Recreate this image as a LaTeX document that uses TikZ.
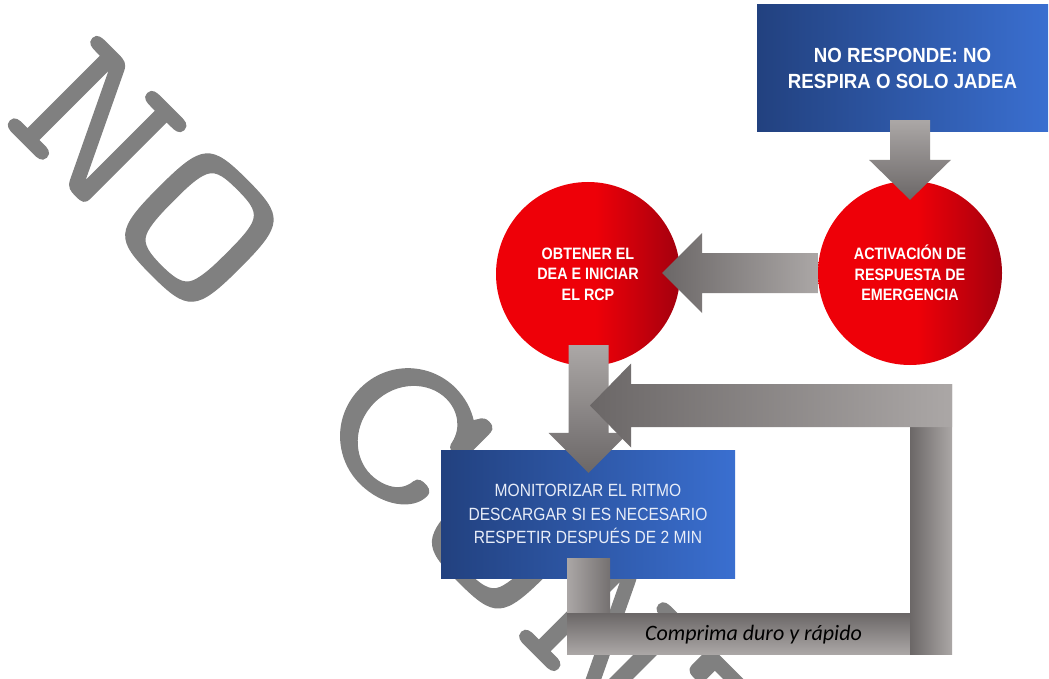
\documentclass[tikz,border=0pt]{standalone}
\usepackage{fontspec}
\usetikzlibrary{calc}
\newfontfamily\hdfont[FakeStretch=0.91]{Liberation Sans}
\newfontfamily\cirfont[FakeStretch=0.87]{Liberation Sans}
\newfontfamily\monfont[FakeStretch=0.88]{Liberation Sans}
\newfontfamily\lblfont{Carlito}
\newfontfamily\wmfont{lmmono10-regular.otf}[FakeStretch=1.3,FakeBold=0.6]
\definecolor{bL}{HTML}{22417F}
\definecolor{bR}{HTML}{3A6FD0}
\definecolor{redL}{HTML}{EE0008}
\definecolor{redR}{HTML}{A3000E}
\definecolor{gL}{HTML}{ABA7A6}
\definecolor{gD}{HTML}{6B6767}
\definecolor{wm}{HTML}{808080}
\definecolor{monw}{HTML}{E8EDF8}
\pgfdeclarehorizontalshading{redsh}{100bp}{color(0bp)=(redL); color(25bp)=(redL); color(52bp)=(redL); color(75bp)=(redR); color(100bp)=(redR)}
\tikzset{
  bluebox/.style={rectangle, inner sep=0pt, left color=bL, right color=bR, align=center},
  topbox/.style={bluebox, minimum width=291pt, minimum height=127pt, text=white,
    font=\hdfont\bfseries\fontsize{20.5}{26}\selectfont},
  monbox/.style={bluebox, minimum width=294pt, minimum height=128pt, text=monw,
    font=\monfont\fontsize{17.7}{23.8}\selectfont},
  redcirc/.style={circle, inner sep=0pt, minimum size=184pt, shade, shading=redsh,
    text=white, align=center, font=\cirfont\bfseries\fontsize{16.5}{20.6}\selectfont},
  lbl/.style={inner sep=0pt, text=black, font=\lblfont\itshape\fontsize{22}{26}\selectfont},
  wmark/.style={text=wm, rotate=-45, anchor=west, inner sep=0pt,
    font=\wmfont\fontsize{212}{212}\selectfont},
  downgrad/.style={top color=gL, bottom color=gD},
  leftgrad/.style={left color=gD, right color=gL}
}
\begin{document}
\begin{tikzpicture}[x=1pt,y=-1pt]
\useasboundingbox (0,0) rectangle (1049,679);
\clip (0,0) rectangle (1049,679);
\fill[white] (0,0) rectangle (1049,679);
% watermark
\node[wmark] (wmk) at (46,74) {NO CONTROLADA};
% nodes
\node[topbox] (top) at (902.5,68.5) {NO RESPONDE: NO\\RESPIRA O SOLO JADEA};
\node[redcirc] (act) at (910,273) {ACTIVACIÓN DE\\RESPUESTA DE\\EMERGENCIA};
\node[redcirc] (dea) at (588,274) {OBTENER EL\\DEA E INICIAR\\EL RCP};
\node[monbox] (mon) at (588,514) {MONITORIZAR EL RITMO\\DESCARGAR SI ES NECESARIO\\RESPETIR DESPUÉS DE 2 MIN};
% arrow top -> act
\shade[downgrad] let \p1=($(act.north |- top.south)+(0,-12)$), \p2=($(act.north)+(0,19)$) in
  (\x1-20pt,\y1) -- (\x1+20pt,\y1) -- (\x1+20pt,\y2+40pt) -- (\x1+41pt,\y2+40pt) -- (\x1,\y2)
  -- (\x1-41pt,\y2+40pt) -- (\x1-20pt,\y2+40pt) -- cycle;
% arrow act -> dea
\shade[leftgrad] let \p1=(act.west), \p2=($(dea.east)+(-18,0)$) in
  (\x1,\y1+20pt) -- (\x2+40pt,\y1+20pt) -- (\x2+40pt,\y1+40pt) -- (\x2,\y1)
  -- (\x2+40pt,\y1-40pt) -- (\x2+40pt,\y1-20pt) -- (\x1,\y1-20pt) -- cycle;
% arrow dea -> mon
\shade[downgrad] let \p1=($(dea.south)+(0.5,-21)$), \p2=($(mon.north)+(0.5,23)$) in
  (\x1-20pt,\y1) -- (\x1+20pt,\y1) -- (\x1+20pt,\y2+40pt) -- (\x1+40pt,\y2+40pt) -- (\x1,\y2)
  -- (\x1-40pt,\y2+40pt) -- (\x1-20pt,\y2+40pt) -- cycle;
% loop back
\coordinate (lb) at ($(mon.south)+(-21,35)$);
\coordinate (rb) at (910,654);
\coordinate (rt) at (952,384);
\coordinate (rc) at (952,405.5);
\coordinate (loopTip) at ($(mon.north)+(2,-44.5)$);
\shade[left color=gL, right color=gD!85!gL] ($(mon.south)+(-21,-20)$) rectangle ($(mon.south)+(22,35)$);
\shade[top color=gD, bottom color=gL] (lb) rectangle (rb);
\shade[leftgrad] (rb |- rt) rectangle (rt |- rb);
\shade[leftgrad] let \p1=(rc), \p2=(loopTip) in
  (\x1,\y1+21.5pt) -- (\x2+41pt,\y1+21.5pt) -- (\x2+41pt,\y1+42pt) -- (\x2,\y1)
  -- (\x2+41pt,\y1-42pt) -- (\x2+41pt,\y1-21.5pt) -- (\x1,\y1-21.5pt) -- cycle;
\node[lbl, anchor=base] (cmp) at (753.5,640) {Comprima duro y rápido};
\end{tikzpicture}
\end{document}
